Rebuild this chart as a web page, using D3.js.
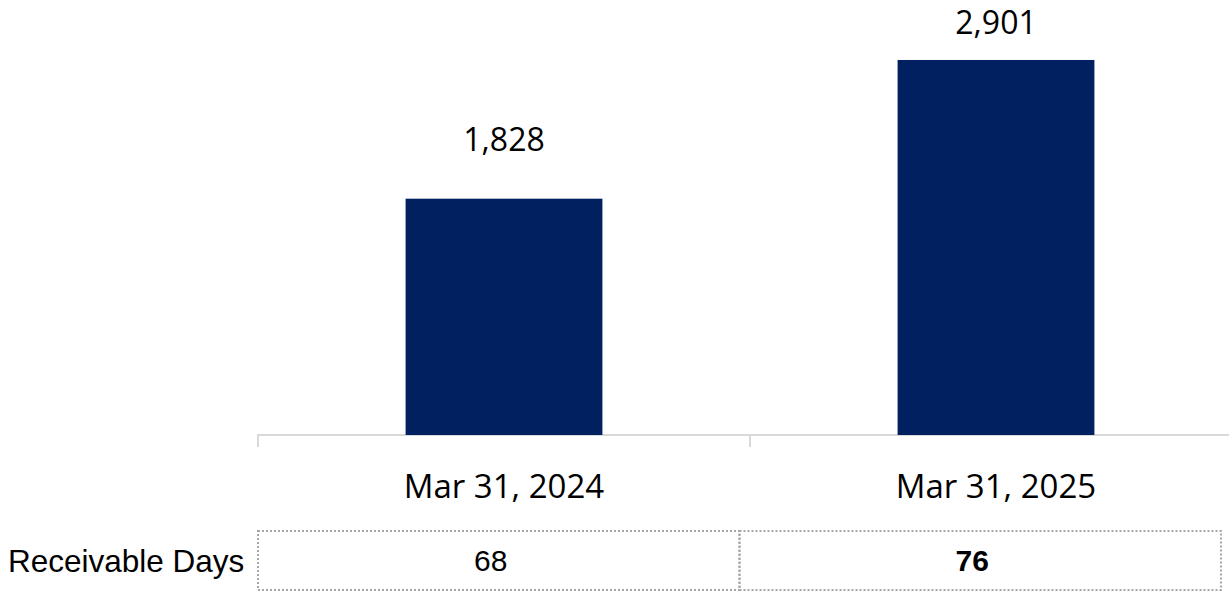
<!DOCTYPE html>
<html>
<head>
<meta charset="utf-8">
<script src="https://cdn.jsdelivr.net/npm/d3@7"></script>
<style>
  html, body { margin: 0; padding: 0; background: #fff; }
  svg { display: block; }
</style>
</head>
<body>
<svg id="chart" width="1229" height="591"></svg>
<script>
const categories = ["Mar 31, 2024", "Mar 31, 2025"];
const receivables = [1828, 2901];
const receivableDays = [68, 76];
const daysBold = [false, true];
const rowLabel = "Receivable Days";

const svg = d3.select("#chart");
const baseY = 435;

const x = d3.scaleBand().domain(categories).range([258, 1242]).padding(0);
const y = d3.scaleLinear().domain([0, 3365]).range([baseY, 0]);
const barW = x.bandwidth() * 0.4;

// axis
const axis = d3.axisBottom(x).tickSize(12).tickFormat("");
const gAxis = svg.append("g").attr("transform", `translate(0,${baseY})`).call(axis);
gAxis.select(".domain").attr("stroke", "#d9d9d9").attr("stroke-width", 2)
  .attr("d", `M${x.range()[0]},12V0H${x.range()[1]}`);
gAxis.selectAll(".tick").remove();
const bounds = categories.map(c => x(c)).concat([x.range()[1]]);
svg.append("g").selectAll("line").data(bounds).join("line")
  .attr("x1", d => d).attr("x2", d => d)
  .attr("y1", baseY).attr("y2", baseY + 12)
  .attr("stroke", "#d9d9d9").attr("stroke-width", 2);

// bars
svg.append("g").selectAll("rect").data(receivables).join("rect")
  .attr("x", (d, i) => x(categories[i]) + (x.bandwidth() - barW) / 2)
  .attr("y", d => y(d))
  .attr("width", barW)
  .attr("height", d => baseY - y(d))
  .attr("fill", "#012060");

// value labels
svg.append("g").selectAll("text").data(receivables).join("text")
  .attr("x", (d, i) => x(categories[i]) + x.bandwidth() / 2)
  .attr("y", d => Math.max(y(d) - 48, 34))
  .attr("text-anchor", "middle")
  .attr("font-family", "'Open Sans', sans-serif")
  .attr("font-size", 32)
  .attr("fill", "#000")
  .text(d => d3.format(",")(d));

// category labels
svg.append("g").selectAll("text").data(categories).join("text")
  .attr("x", d => x(d) + x.bandwidth() / 2)
  .attr("y", 498)
  .attr("text-anchor", "middle")
  .attr("font-family", "'Open Sans', sans-serif")
  .attr("font-size", 33)
  .attr("fill", "#000")
  .text(d => d);

// table
const tx = d3.scaleBand().domain(categories).range([258, 1221]).padding(0);
const tTop = 531, tBot = 590;
const tbl = svg.append("g");
tbl.selectAll("rect").data(categories).join("rect")
  .attr("x", d => tx(d))
  .attr("y", tTop)
  .attr("width", tx.bandwidth())
  .attr("height", tBot - tTop)
  .attr("fill", "none")
  .attr("stroke", "#a6a6a6")
  .attr("stroke-width", 2)
  .attr("stroke-dasharray", "2,2");

tbl.selectAll("text.val").data(receivableDays).join("text")
  .attr("class", "val")
  .attr("x", (d, i) => tx(categories[i]) + tx.bandwidth() / 2 - 8)
  .attr("y", (tTop + tBot) / 2)
  .attr("dy", "0.36em")
  .attr("text-anchor", "middle")
  .attr("font-family", "'Liberation Sans', Arial, sans-serif")
  .attr("font-size", 30)
  .attr("font-weight", (d, i) => daysBold[i] ? "bold" : "normal")
  .attr("fill", "#000")
  .text(d => d);

svg.append("text")
  .attr("x", 8)
  .attr("y", (tTop + tBot) / 2)
  .attr("dy", "0.36em")
  .attr("font-family", "'Liberation Sans', Arial, sans-serif")
  .attr("font-size", 31.5)
  .attr("fill", "#000")
  .text(rowLabel);
</script>
</body>
</html>
